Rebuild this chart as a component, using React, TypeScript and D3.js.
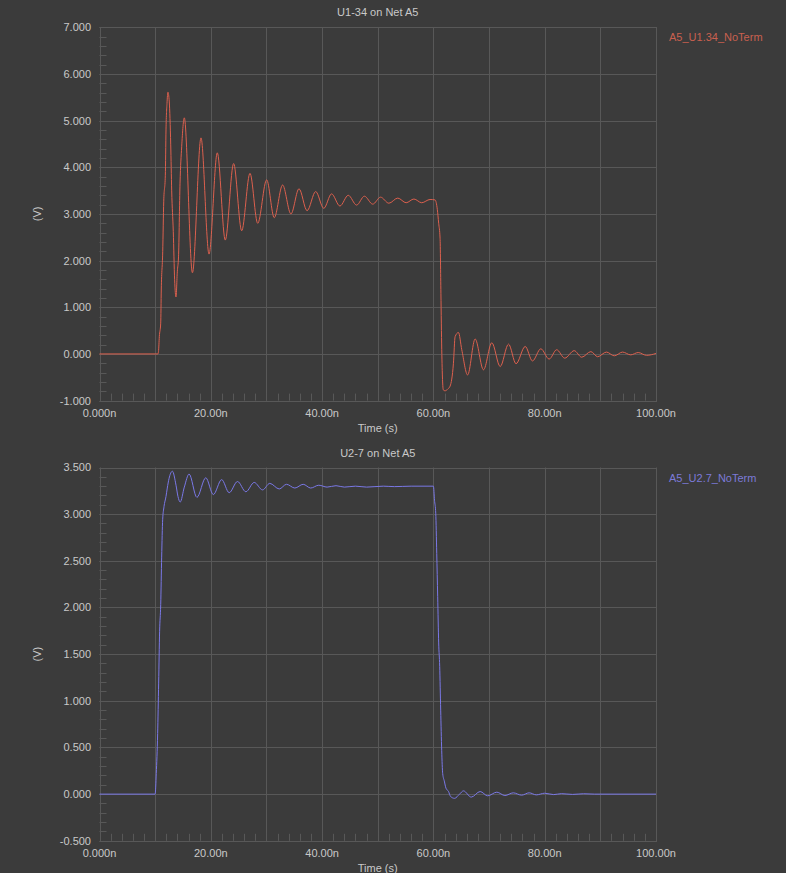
import React from "react";
import * as d3 from "d3";

// ---------- data ----------
const xTickValues = [0, 20, 40, 60, 80, 100];
const xTickLabels = ["0.000n", "20.00n", "40.00n", "60.00n", "80.00n", "100.00n"];

const y1TickValues = [7, 6, 5, 4, 3, 2, 1, 0, -1];
const y1TickLabels = ["7.000", "6.000", "5.000", "4.000", "3.000", "2.000", "1.000", "0.000", "-1.000"];
const y2TickValues = [3.5, 3, 2.5, 2, 1.5, 1, 0.5, 0, -0.5];
const y2TickLabels = ["3.500", "3.000", "2.500", "2.000", "1.500", "1.000", "0.500", "0.000", "-0.500"];

const chartTitles = ["U1-34 on Net A5", "U2-7 on Net A5"];
const seriesNames = ["A5_U1.34_NoTerm", "A5_U2.7_NoTerm"];

// U1-34 waveform: [time (ns), volts]
const u1Wave: [number, number][] = [
  [0, 0], [10.5, 0], [10.6, 0.05], [10.75, 0.37], [11.0, 0.66], [11.1, 1.37], [11.36, 2.19],
  [11.54, 3.26], [11.83, 3.83], [11.95, 4.8], [12.13, 5.37], [12.3, 5.61], [12.54, 5.4],
  [12.8, 4.48], [12.97, 3.51], [13.26, 2.62], [13.5, 1.59], [13.75, 1.22], [13.98, 1.76],
  [14.2, 2.08], [14.47, 3.66], [14.77, 4.44], [15.24, 5.06],
  [16.7, 1.74], [18.24, 4.63], [19.68, 2.14], [21.17, 4.31], [22.6, 2.44], [24.1, 4.08],
  [25.55, 2.64], [27.04, 3.87], [28.43, 2.8], [30.04, 3.73], [31.4, 2.92], [32.9, 3.62],
  [34.4, 3.0], [35.85, 3.54], [37.3, 3.07], [38.85, 3.48], [40.3, 3.12], [41.7, 3.43],
  [43.2, 3.17], [44.7, 3.4], [46.2, 3.19], [47.6, 3.38], [49.1, 3.21], [50.5, 3.36],
  [52.0, 3.23], [53.6, 3.34], [55.1, 3.24], [56.5, 3.32], [57.9, 3.24], [59.4, 3.31],
  [60.3, 3.3], [60.7, 3.1], [60.95, 2.8], [61.2, 2.48], [61.35, 1.3], [61.5, 0.09],
  [61.78, -0.77], [62.1, -0.79], [62.6, -0.75], [63.0, -0.69], [63.6, -0.2], [63.9, 0.37],
  [64.5, 0.46], [65.1, 0.09], [66.15, -0.45], [67.5, 0.32], [69.0, -0.34], [70.5, 0.24],
  [72.0, -0.27], [73.5, 0.21], [74.85, -0.21], [76.5, 0.16], [77.8, -0.15], [79.3, 0.11],
  [80.8, -0.11], [82.15, 0.09], [83.6, -0.09], [85.3, 0.07], [86.65, -0.07], [88.3, 0.05],
  [89.5, -0.06], [91.1, 0.04], [92.5, -0.04], [94.0, 0.04], [95.45, -0.02], [96.8, 0.03],
  [98.3, -0.03], [100, 0.01],
];

// U2-7 waveform: [time (ns), volts]
const u2Wave: [number, number][] = [
  [0, 0], [10.0, 0], [10.2, 0.22], [10.45, 0.65], [10.63, 1.19], [10.8, 1.74], [11.0, 2.03],
  [11.17, 2.54], [11.35, 2.94], [11.59, 3.08], [11.95, 3.19], [12.18, 3.28], [12.49, 3.38],
  [13.1, 3.46], [13.75, 3.31], [14.1, 3.19], [14.5, 3.13], [15.24, 3.29], [16.1, 3.43],
  [17.5, 3.18], [19.1, 3.39], [20.45, 3.21], [21.95, 3.37], [23.3, 3.23], [24.8, 3.35],
  [26.3, 3.24], [27.8, 3.34], [29.3, 3.26], [30.6, 3.33], [32.3, 3.27], [33.6, 3.32],
  [35.1, 3.28], [36.6, 3.32], [37.95, 3.28], [39.4, 3.31], [40.9, 3.29], [42.5, 3.305],
  [44.0, 3.29], [46.0, 3.3], [48.0, 3.29], [51.0, 3.3], [53.0, 3.295], [56.0, 3.3],
  [60.0, 3.3], [60.2, 3.15], [60.42, 3.01], [60.6, 2.58], [60.77, 2.12], [60.95, 1.62],
  [61.13, 1.37], [61.31, 0.9], [61.49, 0.47], [61.67, 0.22], [61.96, 0.14], [62.26, 0.064],
  [62.7, 0.03], [63.1, -0.026], [63.8, -0.045], [64.7, 0.0], [65.4, 0.035], [66.8, -0.032],
  [68.4, 0.028], [69.75, -0.018], [71.4, 0.021], [72.85, -0.015], [74.35, 0.014],
  [75.85, -0.011], [77.2, 0.014], [78.5, -0.008], [80.0, 0.01], [81.6, -0.005], [83.0, 0.005],
  [85.0, -0.003], [87.0, 0.004], [89.0, 0], [100, 0],
];

// ---------- styles ----------
const BG = "#3b3b3b";
const GRID = "#585858";
const TEXT = "#c9c9c9";
const FONT = "'Liberation Sans', Arial, sans-serif";
const COLORS = ["#dc604e", "#7a78e6"];
const LEGEND_COLORS = ["#c9604f", "#7c7ad8"];

type PanelProps = {
  top: number;
  bottom: number;
  yDomain: [number, number];
  yTicks: number[];
  yLabels: string[];
  yMinorStep: number;
  data: [number, number][];
  title: string;
  name: string;
  idx: number;
};

const X0 = 99.5;
const X1 = 656;

function Panel({ top, bottom, yDomain, yTicks, yLabels, yMinorStep, data, title, name, idx }: PanelProps) {
  const x = d3.scaleLinear().domain([0, 100]).range([X0, X1]);
  const y = d3.scaleLinear().domain(yDomain).range([bottom, top]);
  const line = d3
    .line<[number, number]>()
    .x((d) => x(d[0]))
    .y((d) => y(d[1]))
    .curve(d3.curveMonotoneX);

  const xGrid = d3.range(0, 101, 10);
  const xMinor = d3.range(0, 100.001, 2);
  const nMinor = Math.round((yDomain[1] - yDomain[0]) / yMinorStep);
  const yMinor = d3.range(0, nMinor + 1).map((i) => yDomain[0] + i * yMinorStep);
  const r = (v: number) => Math.round(v) + 0.5;
  const cx = (X0 + X1) / 2;

  return (
    <g>
      <text x={cx} y={top - 11} fill={TEXT} fontSize={11} textAnchor="middle" fontFamily={FONT}>
        {title}
      </text>
      {xGrid.map((t) => (
        <line key={"gx" + t} x1={r(x(t))} x2={r(x(t))} y1={top} y2={bottom} stroke={GRID} strokeWidth={1} />
      ))}
      {yTicks.map((v) => (
        <line key={"gy" + v} x1={X0} x2={X1} y1={r(y(v))} y2={r(y(v))} stroke={GRID} strokeWidth={1} />
      ))}
      {xMinor.map((t) => (
        <line key={"mx" + t} x1={r(x(t))} x2={r(x(t))} y1={bottom} y2={bottom - 7} stroke={GRID} strokeWidth={1} />
      ))}
      {yMinor.map((v, i) => (
        <line key={"my" + i} x1={X0} x2={X0 + 7} y1={r(y(v))} y2={r(y(v))} stroke={GRID} strokeWidth={1} />
      ))}
      <rect x={r(X0)} y={r(top)} width={Math.round(X1) - Math.round(X0)} height={Math.round(bottom) - Math.round(top)} fill="none" stroke={GRID} strokeWidth={1} />
      {yTicks.map((v, i) => (
        <text key={"yl" + v} x={91} y={y(v)} dy="0.36em" fill={TEXT} fontSize={11} textAnchor="end" fontFamily={FONT}>
          {yLabels[i]}
        </text>
      ))}
      {xTickValues.map((t, i) => (
        <text key={"xl" + t} x={x(t)} y={bottom + 16} fill={TEXT} fontSize={11} textAnchor="middle" fontFamily={FONT}>
          {xTickLabels[i]}
        </text>
      ))}
      <text x={cx} y={bottom + 31} fill={TEXT} fontSize={11} textAnchor="middle" fontFamily={FONT}>
        Time (s)
      </text>
      <text
        transform={`translate(41,${(top + bottom) / 2}) rotate(-90)`}
        fill={TEXT}
        fontSize={11}
        textAnchor="middle"
        fontFamily={FONT}
      >
        (V)
      </text>
      <path d={line(data) || ""} fill="none" stroke={COLORS[idx]} strokeWidth={1} />
      <text x={669} y={top + 14} fill={LEGEND_COLORS[idx]} fontSize={11} fontFamily={FONT}>
        {name}
      </text>
    </g>
  );
}

export default function App() {
  return (
    <svg
      width={786}
      height={873}
      style={{ position: "absolute", left: 0, top: 0, display: "block" }}
    >
      <rect x={0} y={0} width={786} height={873} fill={BG} />
      <Panel
        top={27.3}
        bottom={400.6}
        yDomain={[-1, 7]}
        yTicks={y1TickValues}
        yLabels={y1TickLabels}
        yMinorStep={0.2}
        data={u1Wave}
        title={chartTitles[0]}
        name={seriesNames[0]}
        idx={0}
      />
      <Panel
        top={467.5}
        bottom={840.8}
        yDomain={[-0.5, 3.5]}
        yTicks={y2TickValues}
        yLabels={y2TickLabels}
        yMinorStep={0.1}
        data={u2Wave}
        title={chartTitles[1]}
        name={seriesNames[1]}
        idx={1}
      />
    </svg>
  );
}
